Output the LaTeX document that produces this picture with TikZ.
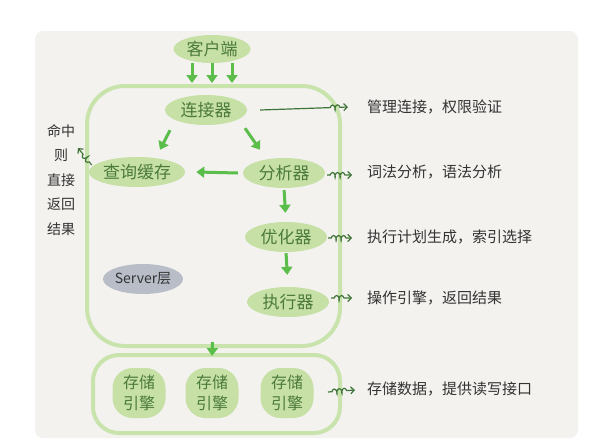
\documentclass[tikz,border=0pt]{standalone}
\usepackage{fontspec}
\setmainfont{Noto Sans CJK SC}
\usetikzlibrary{arrows.meta,calc,shapes.geometric,decorations.pathmorphing}
\definecolor{paper}{HTML}{F3F2EF}
\definecolor{leafgreen}{HTML}{C6E0A5}
\definecolor{boxgreen}{HTML}{C9E3AC}
\definecolor{arrowgreen}{HTML}{5BBD4A}
\definecolor{inkgreen}{HTML}{4C7A3C}
\definecolor{notegreen}{HTML}{3F7538}
\definecolor{inkgray}{HTML}{333333}
\definecolor{layergray}{HTML}{B8BDC7}

\begin{document}
\begin{tikzpicture}[x=1pt,y=-1pt,
  comp/.style={ellipse, fill=leafgreen, text=inkgreen, inner sep=0pt,
    minimum width=82pt, minimum height=30pt, font=\fontsize{17}{17}\selectfont},
  engine/.style={rectangle, rounded corners=20pt, fill=leafgreen, text=inkgreen,
    inner sep=0pt, minimum width=53pt, minimum height=50pt, align=center,
    font=\fontsize{16}{21}\selectfont},
  layer/.style={draw=boxgreen, line width=4pt, rounded corners=#1},
  note/.style={anchor=west, text=inkgray, inner sep=0pt, font=\fontsize{15}{15}\selectfont},
  flow/.style={arrowgreen, line width=3pt, -{Triangle[length=8pt,width=11pt]}},
  curl/.style={notegreen, line width=1.2pt, -{Straight Barb[length=3.5pt,width=7pt]},
    decorate, decoration={coil, aspect=0.45, amplitude=2.5pt, segment length=5pt,
    pre length=#1, post length=6pt}},
]
  \useasboundingbox (0,0) rectangle (589,447);
  \fill[paper, rounded corners=8pt] (35,31) rectangle (578,438);

  % the two layers
  \node[layer=38pt, minimum width=253pt, minimum height=260pt] (server) at (213.5,216) {};
  \node[layer=26pt, minimum width=247pt, minimum height=78pt] (store) at (216.5,394) {};

  \node[comp, minimum width=77pt, minimum height=28pt] (kehu) at (212,49) {客户端};
  \node[comp] (lianjie) at (206,110) {连接器};
  \node[comp, minimum width=81pt] (chaxun) at (137,172) {查询缓存};
  \node[comp] (fenxi) at (284,173) {分析器};
  \node[comp] (youhua) at (286,237) {优化器};
  \node[comp] (zhixing) at (288,302) {执行器};
  \node[ellipse, fill=layergray, text=inkgray, inner sep=0pt, minimum width=80pt,
    minimum height=30pt, font=\fontsize{14}{14}\selectfont] (serverlbl) at (143,279) {Server层};

  \node[engine] (eng1) at (139,393) {存储\\引擎};
  \node[engine] (eng2) at (212,393) {存储\\引擎};
  \node[engine] (eng3) at (287,393) {存储\\引擎};

  % notes
  \node[note] (guanli) at (367,107) {管理连接，权限验证};
  \node[note] (cifa) at (367,172) {词法分析，语法分析};
  \node[note] (jihua) at (367,237) {执行计划生成，索引选择};
  \node[note] (caozuo) at (367,298) {操作引擎，返回结果};
  \node[note] (cunchu) at (367,389) {存储数据，提供读写接口};
  \node[text=inkgray, align=center, inner sep=0pt, font=\fontsize{14}{24.5}\selectfont]
    (mingzhong) at (61,180) {命中\\则\\直接\\返回\\结果};
  \coordinate (hit) at (78,148);

  % flow
  \foreach \dx in {-20,0,20}
    \draw[flow] ($(kehu.south)+(\dx,0)$) -- ($(kehu.south |- server.north)+(\dx,-1)$);
  \draw[flow] ($(lianjie.south)+(-36,5)$) -- ($(chaxun.north)+(23,-7)$);
  \draw[flow] ($(lianjie.south)+(39,3)$) -- ($(fenxi.north)+(-24,-8)$);
  \draw[flow] ($(fenxi.west)+(-5,0)$) -- ($(chaxun.east)+(11,0)$);
  \draw[flow, shorten <=2pt, shorten >=9pt] (fenxi.south) -- (youhua.north);
  \draw[flow, shorten <=1pt, shorten >=12pt] (youhua.south) -- (zhixing.north);
  \draw[flow] ($(server.south)+(-1,-6)$) -- ($(store.north)+(-4.5,3)$);

  % notes arrows
  \draw[curl=70pt] ($(lianjie.east)+(13,0)$) -- ($(guanli.west)+(-19,0)$);
  \draw[curl=3pt] ($(fenxi.east)+(2,2)$) -- ($(cifa.west)+(-15,3)$);
  \draw[curl=3pt] ($(youhua.east)+(1,1)$) -- ($(jihua.west)+(-15,1)$);
  \draw[curl=3pt] ($(zhixing.east)+(2,-4)$) -- ($(caozuo.west)+(-15,0)$);
  \draw[curl=4pt] ($(store.east)+(-14,-2)$) -- ($(cunchu.west)+(-12,1)$);
  \draw[curl=4pt] ($(chaxun.west)+(3,-7)$) -- (hit);
\end{tikzpicture}
\end{document}
